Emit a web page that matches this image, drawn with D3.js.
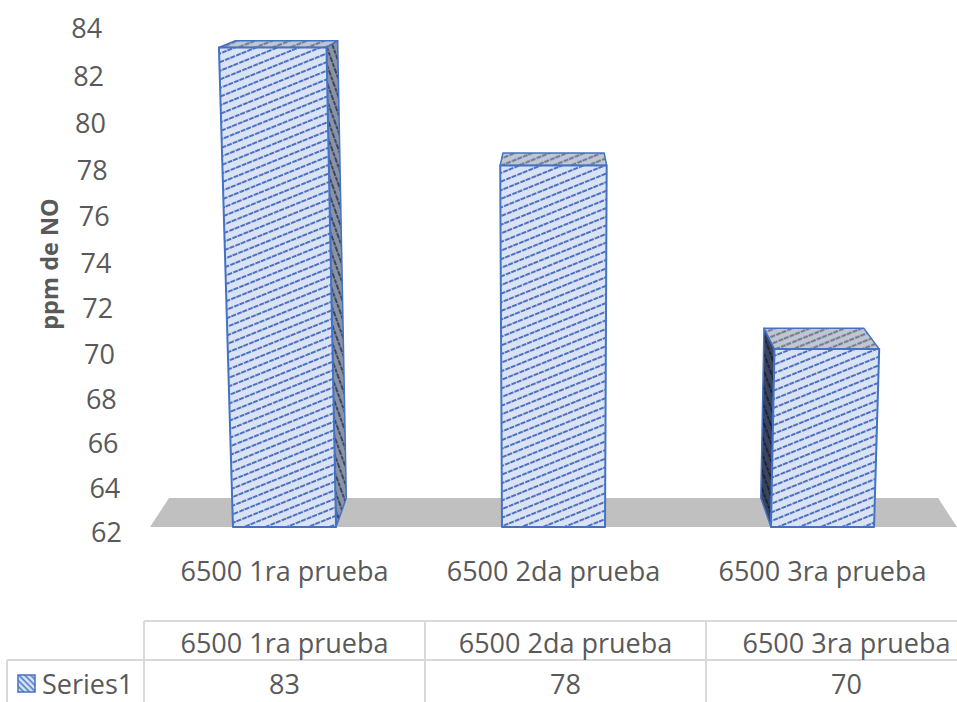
<!DOCTYPE html>
<html>
<head>
<meta charset="utf-8">
<script src="https://cdn.jsdelivr.net/npm/d3@7"></script>
<style>
  body { margin: 0; background: #fff; }
  svg { display: block; }
</style>
</head>
<body>
<svg id="chart" width="957" height="702"></svg>
<script>
const categories = ['6500 1ra prueba', '6500 2da prueba', '6500 3ra prueba']
const values = [83, 78, 70]
const seriesName = 'Series1'
const yTicks = [62, 64, 66, 68, 70, 72, 74, 76, 78, 80, 82, 84]
const axisTitle = 'ppm de NO'

const TEXT = '#595959'
const FONT = '"Open Sans", sans-serif'
const FONT_SIZE = 27
const EDGE = '#4472c4'
const GRID = '#d9d9d9'

// perspective camera, tilted down, looking at the middle of the floor's front edge
const CAM = { ox: 555, oy: 527, f: 2605, tilt: Math.atan(0.2369) }
const DEPTH = 132
const GAP_WIDTH = 1.61

const sinT = Math.sin(CAM.tilt)
const cosT = Math.cos(CAM.tilt)

function project(X, Y, Z) {
  const dx = X - CAM.ox
  const dy = Y - CAM.f * sinT
  const dz = Z + CAM.f * cosT
  const zc = -dy * sinT + dz * cosT
  const yc = dy * cosT + dz * sinT
  return [CAM.ox + CAM.f * dx / zc, CAM.oy - CAM.f * yc / zc]
}

const x = d3.scaleBand().domain(categories).range([150, 957]).padding(0)
const y = d3.scaleLinear().domain([62, 84]).range([0, 494.7])
const barW = x.bandwidth() / (1 + GAP_WIDTH)

const svg = d3.select('#chart')
const defs = svg.append('defs')

function hatch(id, bg, fg, angle, gap, dash, sw) {
  const p = defs.append('pattern')
    .attr('id', id)
    .attr('patternUnits', 'userSpaceOnUse')
    .attr('width', 12)
    .attr('height', gap)
    .attr('patternTransform', `rotate(${angle})`)
  p.append('rect').attr('width', 12).attr('height', gap).attr('fill', bg)
  p.append('line')
    .attr('x1', 0).attr('x2', 12)
    .attr('y1', gap / 2).attr('y2', gap / 2)
    .attr('stroke', fg)
    .attr('stroke-width', sw)
    .attr('stroke-dasharray', dash)
}

hatch('hFront', '#d9e3f5', '#4c70bf', -22, 8, '5 1.2', 1.9)
hatch('hTop', '#c1c7d2', '#66718a', -22, 6.5, '5 1.2', 2)
hatch('hSideR', '#8a93a5', '#3b4761', 70, 6, '4 1.2', 1.8)
hatch('hSideL', '#3a445e', '#1b243d', 70, 6, '4 1.2', 1.8)
hatch('hKey', '#d9e3f5', '#4472c4', 45, 4.2, 'none', 1.5)

const line = d3.line()
const poly = pts => line(pts.map(p => project(p[0], p[1], p[2]))) + 'Z'

// floor
svg.append('path')
  .attr('d', poly([
    [x.range()[0], 0, 0], [x.range()[1], 0, 0],
    [x.range()[1], 0, DEPTH], [x.range()[0], 0, DEPTH]
  ]))
  .attr('fill', '#c0c0c0')

// bars
const bars = categories.map((c, i) => {
  const x0 = x(c) + (x.bandwidth() - barW) / 2
  return { cat: c, value: values[i], x0, x1: x0 + barW, h: y(values[i]) }
})

const barG = svg.append('g')
bars.forEach(d => {
  const g = barG.append('g')
  const { x0, x1, h } = d
  if (x1 < CAM.ox) {
    g.append('path')
      .attr('d', poly([[x1, 0, 0], [x1, h, 0], [x1, h, DEPTH], [x1, 0, DEPTH]]))
      .attr('fill', 'url(#hSideR)').attr('stroke', EDGE).attr('stroke-width', 1.5)
      .attr('stroke-linejoin', 'round')
  }
  if (x0 > CAM.ox) {
    g.append('path')
      .attr('d', poly([[x0, 0, 0], [x0, h, 0], [x0, h, DEPTH], [x0, 0, DEPTH]]))
      .attr('fill', 'url(#hSideL)').attr('stroke', EDGE).attr('stroke-width', 1.5)
      .attr('stroke-linejoin', 'round')
  }
  g.append('path')
    .attr('d', poly([[x0, h, 0], [x1, h, 0], [x1, h, DEPTH], [x0, h, DEPTH]]))
    .attr('fill', 'url(#hTop)').attr('stroke', EDGE).attr('stroke-width', 1.5)
    .attr('stroke-linejoin', 'round')
  g.append('path')
    .attr('d', poly([[x0, 0, 0], [x1, 0, 0], [x1, h, 0], [x0, h, 0]]))
    .attr('fill', 'url(#hFront)').attr('stroke', EDGE).attr('stroke-width', 2)
    .attr('stroke-linejoin', 'round')
})

// value axis labels
svg.append('g')
  .selectAll('text')
  .data(yTicks)
  .join('text')
  .attr('x', d => project(122, y(d), 0)[0])
  .attr('y', d => project(122, y(d), 0)[1] + 4)
  .attr('text-anchor', 'end')
  .attr('dominant-baseline', 'central')
  .attr('font-family', FONT)
  .attr('font-size', FONT_SIZE)
  .attr('fill', TEXT)
  .text(d => d)

svg.append('text')
  .attr('transform', 'translate(49,264) rotate(-90)')
  .attr('text-anchor', 'middle')
  .attr('dominant-baseline', 'central')
  .attr('font-family', FONT)
  .attr('font-size', 23.5)
  .attr('font-weight', 700)
  .attr('fill', TEXT)
  .text(axisTitle)

// category labels
svg.append('g')
  .selectAll('text')
  .data(categories)
  .join('text')
  .attr('x', d => project(x(d) + x.bandwidth() / 2, 0, 0)[0])
  .attr('y', d => project(x(d) + x.bandwidth() / 2, 0, 0)[1] + 43)
  .attr('text-anchor', 'middle')
  .attr('dominant-baseline', 'central')
  .attr('font-family', FONT)
  .attr('font-size', FONT_SIZE)
  .attr('fill', TEXT)
  .text(d => d)

// data table
const col = d3.scaleBand().domain(categories).range([144, 987])
const rowTop = 621, rowMid = 660, rowBot = 712
const legendLeft = 7
const tbl = svg.append('g').attr('stroke', GRID).attr('stroke-width', 2)
tbl.append('line').attr('x1', col.range()[0]).attr('x2', col.range()[1]).attr('y1', rowTop).attr('y2', rowTop)
tbl.append('line').attr('x1', legendLeft).attr('x2', col.range()[1]).attr('y1', rowMid).attr('y2', rowMid)
tbl.append('line').attr('x1', legendLeft).attr('x2', legendLeft).attr('y1', rowMid).attr('y2', rowBot)
tbl.selectAll('line.col')
  .data(categories)
  .join('line')
  .attr('class', 'col')
  .attr('x1', d => col(d)).attr('x2', d => col(d))
  .attr('y1', rowTop).attr('y2', rowBot)

svg.append('g')
  .selectAll('text')
  .data(categories)
  .join('text')
  .attr('x', d => col(d) + col.bandwidth() / 2)
  .attr('y', (rowTop + rowMid) / 2 + 2)
  .attr('text-anchor', 'middle')
  .attr('dominant-baseline', 'central')
  .attr('font-family', FONT)
  .attr('font-size', FONT_SIZE)
  .attr('fill', TEXT)
  .text(d => d)

svg.append('g')
  .selectAll('text')
  .data(values)
  .join('text')
  .attr('x', (d, i) => col(categories[i]) + col.bandwidth() / 2)
  .attr('y', 683)
  .attr('text-anchor', 'middle')
  .attr('dominant-baseline', 'central')
  .attr('font-family', FONT)
  .attr('font-size', FONT_SIZE)
  .attr('fill', TEXT)
  .text(d => d)

svg.append('rect')
  .attr('x', 18).attr('y', 675)
  .attr('width', 17).attr('height', 17)
  .attr('fill', 'url(#hKey)')
  .attr('stroke', EDGE)
  .attr('stroke-width', 1.5)

svg.append('text')
  .attr('x', 42).attr('y', 683)
  .attr('dominant-baseline', 'central')
  .attr('font-family', FONT)
  .attr('font-size', FONT_SIZE)
  .attr('fill', TEXT)
  .text(seriesName)
</script>
</body>
</html>
